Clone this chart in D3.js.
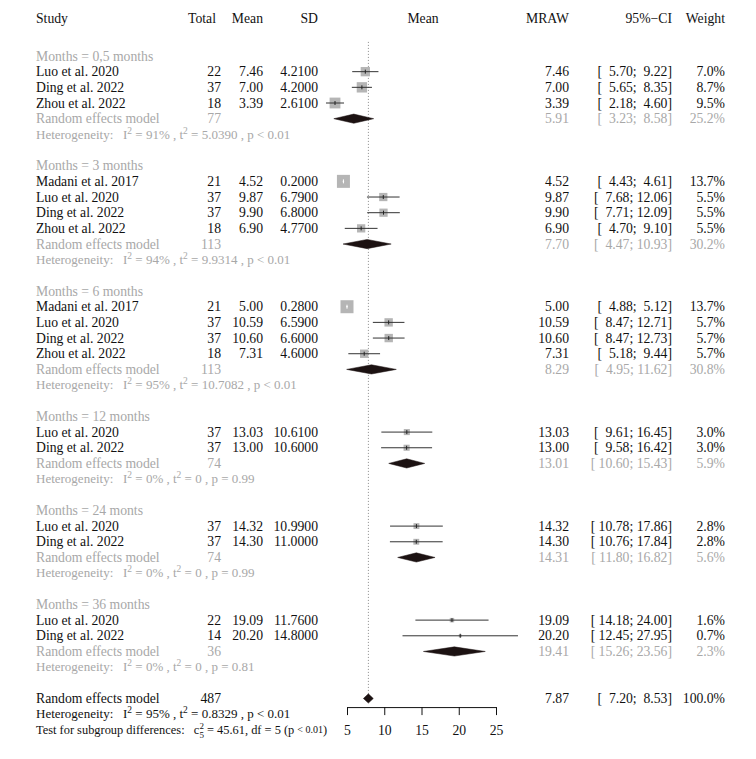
<!DOCTYPE html>
<html><head><meta charset="utf-8">
<script src="https://cdn.jsdelivr.net/npm/d3@7"></script>
<style>body{margin:0;background:#fff} svg text{white-space:pre}</style>
</head><body><svg id="c" width="756" height="759"></svg>
<script>
// ---------- DATA ----------
const groupLabels = ["Months = 0,5 months","Months = 3 months","Months = 6 months","Months = 12 months","Months = 24 monts","Months = 36 months"];
const studyGroup  = [0,0,0, 1,1,1,1, 2,2,2,2, 3,3, 4,4, 5,5];
const studyNames  = ["Luo et al. 2020","Ding et al. 2022","Zhou et al. 2022",
  "Madani et al. 2017","Luo et al. 2020","Ding et al. 2022","Zhou et al. 2022",
  "Madani et al. 2017","Luo et al. 2020","Ding et al. 2022","Zhou et al. 2022",
  "Luo et al. 2020","Ding et al. 2022","Luo et al. 2020","Ding et al. 2022",
  "Luo et al. 2020","Ding et al. 2022"];
const studyTotal  = [22,37,18, 21,37,37,18, 21,37,37,18, 37,37, 37,37, 22,14];
const studyMean   = [7.46,7.00,3.39, 4.52,9.87,9.90,6.90, 5.00,10.59,10.60,7.31, 13.03,13.00, 14.32,14.30, 19.09,20.20];
const studySD     = [4.21,4.20,2.61, 0.20,6.79,6.80,4.77, 0.28,6.59,6.60,4.60, 10.61,10.60, 10.99,11.00, 11.76,14.80];
const studyLower  = [5.70,5.65,2.18, 4.43,7.68,7.71,4.70, 4.88,8.47,8.47,5.18, 9.61,9.58, 10.78,10.76, 14.18,12.45];
const studyUpper  = [9.22,8.35,4.60, 4.61,12.06,12.09,9.10, 5.12,12.71,12.73,9.44, 16.45,16.42, 17.86,17.84, 24.00,27.95];
const studyWeight = [7.0,8.7,9.5, 13.7,5.5,5.5,5.5, 13.7,5.7,5.7,5.7, 3.0,3.0, 2.8,2.8, 1.6,0.7];
const groupTotal  = [77,113,113,74,74,36];
const groupEst    = [5.91,7.70,8.29,13.01,14.31,19.41];
const groupLower  = [3.23,4.47,4.95,10.60,11.80,15.26];
const groupUpper  = [8.58,10.93,11.62,15.43,16.82,23.56];
const groupWeight = [25.2,30.2,30.8,5.9,5.6,2.3];
const groupI2     = ["91%","94%","95%","0%","0%","0%"];
const groupTau2   = ["5.0390","9.9314","10.7082","0","0","0"];
const groupP      = ["< 0.01","< 0.01","< 0.01","= 0.99","= 0.99","= 0.81"];
const overall     = {total:487, est:7.87, lower:7.20, upper:8.53, weight:100.0, i2:"95%", tau2:"0.8329", p:"< 0.01"};
const subgroupTest = {chi2:"45.61", df:5, p:"< 0.01"};
const axisTicks   = [5,10,15,20,25];

// ---------- LAYOUT ----------
const svg = d3.select("#c");
const FONT = "Liberation Serif";
const FS = 13.7, FSH = 13, FST = 12.4;
const GRAY = "#a8a8a8", BLACK = "#111";
const x = d3.scaleLinear().domain([5,25]).range([347,496]);
const y = d3.scaleLinear().domain([0,1]).range([56,56+15.67]);
const boxSide = d3.scaleSqrt().domain([0,13.7]).range([0,13]);
const col = {study:36,total:221,totalH:216,mean:263,sd:318,mraw:569,ci:672,w:725};

// build rows
const rows = []; let r = 0;
groupLabels.forEach((g,gi)=>{
  rows.push({type:"label",row:r++,gi});
  studyGroup.forEach((sg,si)=>{ if(sg===gi) rows.push({type:"study",row:r++,si}); });
  rows.push({type:"pooled",row:r++,gi});
  rows.push({type:"het",row:r++,gi});
  r++;
});
const overallRow = r++, overallHetRow = r++, testRow = r++;

function txt(xp, row, s, opt={}) {
  return svg.append("text").attr("x",xp).attr("y",y(row)).attr("dy","0.33em")
    .attr("font-family",FONT).attr("font-size",opt.fs||FS)
    .attr("fill",opt.color||BLACK).attr("text-anchor",opt.anchor||"start").text(s);
}
const f2 = v=>v.toFixed(2);
const pad5 = s=>s.padStart(5," ");
const ciStr = (l,u)=>"[ "+pad5(f2(l))+"; "+pad5(f2(u))+"]";

// header
const hRow = -2.4;
txt(col.study,hRow,"Study");
txt(col.totalH,hRow,"Total",{anchor:"end"});
txt(col.mean,hRow,"Mean",{anchor:"end"});
txt(col.sd,hRow,"SD",{anchor:"end"});
txt(423,hRow,"Mean",{anchor:"middle"});
txt(col.mraw,hRow,"MRAW",{anchor:"end"});
txt(col.ci,hRow,"95%\u2212CI",{anchor:"end"});
txt(col.w,hRow,"Weight",{anchor:"end"});

// reference dotted line
svg.append("line").attr("x1",x(overall.est)).attr("x2",x(overall.est))
  .attr("y1",y(-0.9)).attr("y2",y(40.7)).attr("stroke","#8a8a8a")
  .attr("stroke-width",1).attr("stroke-dasharray","1,2");

function hetLine(row, i2, tau2, p, color) {
  const t = svg.append("text").attr("x",col.study).attr("y",y(row)).attr("dy","0.33em")
    .attr("font-family",FONT).attr("font-size",FSH).attr("fill",color);
  t.append("tspan").text("Heterogeneity:   I");
  t.append("tspan").attr("font-size",9.5).attr("dy",-5).text("2");
  t.append("tspan").attr("dy",5).text(" = "+i2+" , t");
  t.append("tspan").attr("font-size",9.5).attr("dy",-5).text("2");
  t.append("tspan").attr("dy",5).text(" = "+tau2+" , p "+p);
}
function diamond(row, est, lo, hi) {
  const yc = y(row), h = 4.6;
  svg.append("path").attr("d",`M${x(lo)},${yc}L${x(est)},${yc-h}L${x(hi)},${yc}L${x(est)},${yc+h}Z`)
    .attr("fill","#1c1212").attr("stroke","#1c1212").attr("stroke-width",0.5);
}

rows.forEach(d=>{
  if(d.type==="label"){
    txt(col.study,d.row,groupLabels[d.gi],{color:GRAY});
  } else if(d.type==="study"){
    const i=d.si;
    txt(col.study,d.row,studyNames[i]);
    txt(col.total,d.row,String(studyTotal[i]),{anchor:"end"});
    txt(col.mean,d.row,f2(studyMean[i]),{anchor:"end"});
    txt(col.sd,d.row,studySD[i].toFixed(4),{anchor:"end"});
    txt(col.mraw,d.row,f2(studyMean[i]),{anchor:"end"});
    txt(col.ci,d.row,ciStr(studyLower[i],studyUpper[i]),{anchor:"end"});
    txt(col.w,d.row,studyWeight[i].toFixed(1)+"%",{anchor:"end"});
    const yc=y(d.row), s=boxSide(studyWeight[i]), xc=x(studyMean[i]);
    svg.append("rect").attr("x",xc-s/2).attr("y",yc-s/2).attr("width",s).attr("height",s).attr("fill","#b5b5b5");
    const inside = x(studyLower[i])>=xc-s/2 && x(studyUpper[i])<=xc+s/2;
    const lc = inside?"#fff":"#333";
    svg.append("line").attr("x1",x(studyLower[i])).attr("x2",x(studyUpper[i]))
      .attr("y1",yc).attr("y2",yc).attr("stroke",lc).attr("stroke-width",1);
    svg.append("line").attr("x1",xc).attr("x2",xc).attr("y1",yc-2).attr("y2",yc+2)
      .attr("stroke",inside?"#fff":"#222").attr("stroke-width",1);
  } else if(d.type==="pooled"){
    const g=d.gi;
    txt(col.study,d.row,"Random effects model",{color:GRAY});
    txt(col.total,d.row,String(groupTotal[g]),{anchor:"end",color:GRAY});
    txt(col.mraw,d.row,f2(groupEst[g]),{anchor:"end",color:GRAY});
    txt(col.ci,d.row,ciStr(groupLower[g],groupUpper[g]),{anchor:"end",color:GRAY});
    txt(col.w,d.row,groupWeight[g].toFixed(1)+"%",{anchor:"end",color:GRAY});
    diamond(d.row,groupEst[g],groupLower[g],groupUpper[g]);
  } else if(d.type==="het"){
    const g=d.gi;
    hetLine(d.row,groupI2[g],groupTau2[g],groupP[g],GRAY);
  }
});

// overall
txt(col.study,overallRow,"Random effects model");
txt(col.total,overallRow,String(overall.total),{anchor:"end"});
txt(col.mraw,overallRow,f2(overall.est),{anchor:"end"});
txt(col.ci,overallRow,ciStr(overall.lower,overall.upper),{anchor:"end"});
txt(col.w,overallRow,overall.weight.toFixed(1)+"%",{anchor:"end"});
diamond(overallRow,overall.est,overall.lower,overall.upper);
hetLine(overallHetRow,overall.i2,overall.tau2,overall.p,BLACK);

// test for subgroup differences
{
  const t = svg.append("text").attr("x",col.study).attr("y",y(testRow)).attr("dy","0.33em")
    .attr("font-family",FONT).attr("font-size",FST).attr("fill",BLACK);
  t.append("tspan").text("Test for subgroup differences:   c");
  t.append("tspan").attr("font-size",9).attr("dy",-5).text("2");
  t.append("tspan").attr("font-size",9).attr("dx",-4.5).attr("dy",9).text(String(subgroupTest.df));
  t.append("tspan").attr("dy",-4).text(" = "+subgroupTest.chi2+", df = "+subgroupTest.df+" (p ");
  t.append("tspan").attr("font-size",10).attr("dy",-1).text(subgroupTest.p);
  t.append("tspan").attr("dy",1).text(")");
}

// axis
const ax = svg.append("g").attr("transform",`translate(0,${y(41.55)})`)
  .call(d3.axisBottom(x).tickValues(axisTicks).tickSize(8).tickPadding(10).tickSizeOuter(0));
ax.select(".domain").attr("stroke","#111");
ax.selectAll(".tick line").attr("stroke","#111");
ax.selectAll("text").attr("font-family",FONT).attr("font-size",FS).attr("fill",BLACK);
</script></body></html>
